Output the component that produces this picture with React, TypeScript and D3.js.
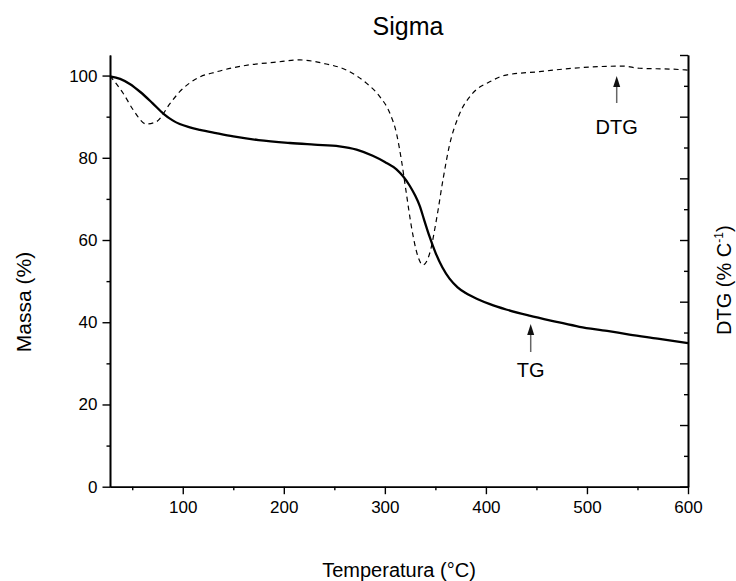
import { useRef, useEffect } from "react";
import * as d3 from "d3";

// TG curve: temperature (°C) and mass (%)
const tgTemp = [28, 38, 48, 58, 70, 81, 90, 97, 107, 117, 133, 150, 175, 206, 230, 255, 272, 288, 300, 311.5, 318, 324.6, 330, 334.5, 339, 344, 350, 357, 364, 372, 380, 392, 404, 420, 443, 470, 492.6, 520, 542, 570, 600];
const tgMass = [99.8, 99.2, 97.9, 96.0, 93.3, 90.7, 89.1, 88.2, 87.4, 86.8, 86.0, 85.2, 84.3, 83.6, 83.2, 82.8, 82.0, 80.5, 79.0, 77.2, 75.5, 73.2, 70.8, 68.3, 64.8, 61.0, 57.0, 53.3, 50.6, 48.5, 47.1, 45.6, 44.4, 43.1, 41.6, 40.1, 38.9, 37.9, 37.0, 36.0, 34.9];

// DTG curve: temperature (°C) and rate (% / °C), right axis (unlabelled)
const dtgTemp = [28, 41, 51, 64, 74, 87.5, 97, 114, 134, 166, 190, 216, 239, 262, 282, 295, 305, 311.5, 316.4, 321.3, 326.3, 332.8, 337.7, 344.4, 351, 357.5, 364, 372.3, 387, 403.7, 420, 453, 486, 535, 552, 585, 600];
const dtgRate = [-0.068, -0.124, -0.178, -0.224, -0.216, -0.157, -0.119, -0.076, -0.054, -0.032, -0.024, -0.016, -0.027, -0.049, -0.092, -0.135, -0.189, -0.254, -0.341, -0.449, -0.557, -0.654, -0.681, -0.643, -0.535, -0.405, -0.292, -0.204, -0.124, -0.087, -0.065, -0.054, -0.043, -0.036, -0.043, -0.046, -0.049];

const xMajor = [100, 200, 300, 400, 500, 600];
const xMinor = [50, 150, 250, 350, 450, 550];
const yMajor = [0, 20, 40, 60, 80, 100];
const yMinor = [10, 30, 50, 70, 90];
const rMajor = [-1.4, -1.2, -1.0, -0.8, -0.6, -0.4, -0.2, 0];
const rMinor = [-1.3, -1.1, -0.9, -0.7, -0.5, -0.3, -0.1];

const W = 736;
const H = 581;
const FONT = "'Liberation Sans', Arial, sans-serif";

const App = () => {
  const ref = useRef(null);

  useEffect(() => {
    const svg = d3.select(ref.current);
    svg.selectAll("*").remove();

    const left = 110, right = 688, top = 55, bottom = 486.7;
    const x = d3.scaleLinear().domain([28, 600]).range([left, right]);
    const y = d3.scaleLinear().domain([0, 105]).range([bottom, top]);
    const yR = d3.scaleLinear().domain([-1.4, 0]).range([bottom, top]);

    const styleAxis = (g) => {
      g.select(".domain").attr("stroke", "#000").attr("stroke-width", 1.6);
      g.selectAll(".tick line").attr("stroke", "#000").attr("stroke-width", 1.4);
      g.selectAll(".tick text")
        .attr("fill", "#000")
        .style("font-family", FONT)
        .style("font-size", "17px");
    };

    // bottom axis
    svg.append("g")
      .attr("transform", `translate(0,${bottom})`)
      .call(d3.axisBottom(x).tickValues(xMinor).tickSize(3.5).tickSizeOuter(0).tickFormat(() => ""))
      .call(styleAxis);
    svg.append("g")
      .attr("transform", `translate(0,${bottom})`)
      .call(d3.axisBottom(x).tickValues(xMajor).tickSize(7.5).tickSizeOuter(0).tickPadding(7))
      .call(styleAxis);

    // left axis
    svg.append("g")
      .attr("transform", `translate(${left},0)`)
      .call(d3.axisLeft(y).tickValues(yMinor).tickSize(3.5).tickSizeOuter(0).tickFormat(() => ""))
      .call(styleAxis);
    svg.append("g")
      .attr("transform", `translate(${left},0)`)
      .call(d3.axisLeft(y).tickValues(yMajor).tickSize(7.5).tickSizeOuter(0).tickPadding(5))
      .call(styleAxis);

    // right axis, ticks pointing inward, no labels
    svg.append("g")
      .attr("transform", `translate(${right},0)`)
      .call(d3.axisRight(yR).tickValues(rMinor).tickSize(-4).tickSizeOuter(0).tickFormat(() => ""))
      .call(styleAxis);
    svg.append("g")
      .attr("transform", `translate(${right},0)`)
      .call(d3.axisRight(yR).tickValues(rMajor).tickSize(-8).tickSizeOuter(0).tickFormat(() => ""))
      .call(styleAxis);

    // DTG dashed
    const dtgLine = d3.line()
      .x((d) => x(d[0]))
      .y((d) => yR(d[1]))
      .curve(d3.curveMonotoneX);
    svg.append("path")
      .attr("d", dtgLine(dtgTemp.map((t, i) => [t, dtgRate[i]])))
      .attr("fill", "none")
      .attr("stroke", "#000")
      .attr("stroke-width", 1.2)
      .attr("stroke-dasharray", "5,4");

    // TG solid
    const tgLine = d3.line()
      .x((d) => x(d[0]))
      .y((d) => y(d[1]))
      .curve(d3.curveMonotoneX);
    svg.append("path")
      .attr("d", tgLine(tgTemp.map((t, i) => [t, tgMass[i]])))
      .attr("fill", "none")
      .attr("stroke", "#000")
      .attr("stroke-width", 2.3);

    // annotations with arrows
    const arrow = (ax, y1, y2, label, ly) => {
      svg.append("line")
        .attr("x1", ax).attr("x2", ax)
        .attr("y1", y1 + 8).attr("y2", y2)
        .attr("stroke", "#666").attr("stroke-width", 1.5);
      svg.append("path")
        .attr("d", `M${ax},${y1} L${ax - 3.5},${y1 + 11} L${ax + 3.5},${y1 + 11} Z`)
        .attr("fill", "#111");
      svg.append("text")
        .attr("x", ax).attr("y", ly)
        .attr("text-anchor", "middle")
        .style("font-family", FONT).style("font-size", "20px")
        .text(label);
    };
    arrow(616.7, 76, 103, "DTG", 134);
    arrow(530.7, 324, 352, "TG", 376.5);

    // title
    svg.append("text")
      .attr("x", 408).attr("y", 35)
      .attr("text-anchor", "middle")
      .style("font-family", FONT).style("font-size", "25px")
      .text("Sigma");

    // x axis title
    svg.append("text")
      .attr("x", 399).attr("y", 577)
      .attr("text-anchor", "middle")
      .style("font-family", FONT).style("font-size", "20px")
      .text("Temperatura (°C)");

    // left title
    svg.append("text")
      .attr("transform", "translate(31,302) rotate(-90)")
      .attr("text-anchor", "middle")
      .style("font-family", FONT).style("font-size", "21px")
      .text("Massa (%)");

    // right title
    const rt = svg.append("text")
      .attr("transform", "translate(731,335) rotate(-90)")
      .attr("text-anchor", "start")
      .style("font-family", FONT).style("font-size", "20px");
    rt.append("tspan").text("DTG (% C");
    rt.append("tspan").attr("dy", -8).style("font-size", "12px").text("-1");
    rt.append("tspan").attr("dy", 8).text(")");
  }, []);

  return (
    <svg
      ref={ref}
      width={W}
      height={H}
      style={{ position: "absolute", left: 0, top: 0, background: "#fff" }}
    />
  );
};

export default App;
